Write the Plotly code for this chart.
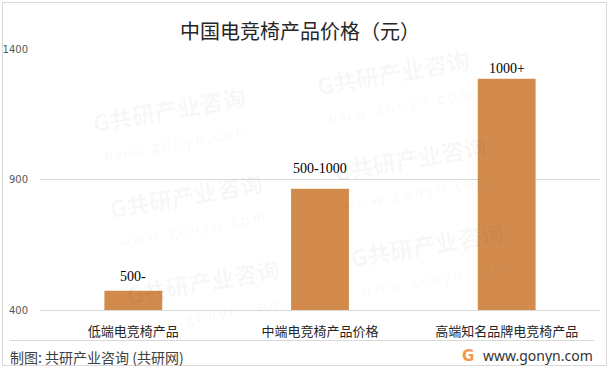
import plotly.graph_objects as go

categories = ["低端电竞椅产品", "中端电竞椅产品价格", "高端知名品牌电竞椅产品"]
prices = [474, 865, 1286]
price_labels = ["500-", "500-1000", "1000+"]
y_ticks = [400, 900, 1400]

title_text = "中国电竞椅产品价格（元）"
source_text = "制图: 共研产业咨询 (共研网)"
site_text = "www.gonyn.com"

W, H = 611, 369
L, R, T, B = 40, 11, 49, 59
PW, PH = W - L - R, H - T - B


def px(x):
    return (x - L) / PW


def py(y):
    return (H - B - y) / PH


bar_color = "#D38B4D"
cjk = "Noto Sans CJK SC"

fig = go.Figure()
fig.add_trace(go.Bar(
    x=categories, y=prices, marker=dict(color=bar_color, line=dict(width=0)),
    hoverinfo="x+y", showlegend=False,
))

annotations = []

# faint watermark lattice (only units fully inside the picture)
wm_html = ("<b>G共研产业咨询</b><br>"
           "<span style='font-size:14px'>w w w . g o n y n . c o m</span>")
for i in range(-1, 3):
    for j in range(-2, 4):
        gx = 83 + i * 224 + j * 17
        gy = 127 - i * 37 + j * 86
        cx, cy = gx + 88, gy - 5
        if cx - 100 < 4 or cx + 100 > W - 6 or cy - 35 < 4 or cy + 35 > H - 30:
            continue
        annotations.append(dict(
            x=px(cx), y=py(cy), xref="paper", yref="paper",
            text=wm_html, showarrow=False, textangle=-10,
            font=dict(family=cjk, size=23, color="rgba(0,0,0,0.045)"),
            xanchor="center", yanchor="middle",
        ))

# data labels
label_offsets = [14, 20, 10]
for c, v, t, off in zip(categories, prices, price_labels, label_offsets):
    annotations.append(dict(
        x=c, y=v, xref="x", yref="y", text=t, showarrow=False,
        yshift=off, yanchor="middle", xanchor="center",
        font=dict(family="Liberation Serif", size=14, color="#000000"),
    ))

# title
annotations.append(dict(
    x=px(300), y=py(30), xref="paper", yref="paper", text=title_text,
    showarrow=False, xanchor="center", yanchor="middle",
    font=dict(family=cjk, size=20, color="#262626"),
))
# footer
annotations.append(dict(
    x=px(8), y=py(357), xref="paper", yref="paper", text=source_text,
    showarrow=False, xanchor="left", yanchor="middle",
    font=dict(family=cjk, size=14, color="#404040"),
))
annotations.append(dict(
    x=px(595), y=py(355), xref="paper", yref="paper", text=site_text,
    showarrow=False, xanchor="right", yanchor="middle",
    font=dict(family="Noto Sans", size=14, color="#333333"),
))
annotations.append(dict(
    x=px(468), y=py(356), xref="paper", yref="paper", text="<b>G</b>",
    showarrow=False, xanchor="center", yanchor="middle",
    font=dict(family="DejaVu Sans", size=15, color="#F39A4C"),
))

shapes = [
    dict(type="rect", xref="paper", yref="paper",
         x0=px(2.5), x1=px(606.5), y0=py(365.5), y1=py(2.5),
         line=dict(color="#D9D9D9", width=1), fillcolor="rgba(0,0,0,0)", layer="below"),
    dict(type="line", xref="paper", yref="paper",
         x0=px(10), x1=px(594), y0=py(340.5), y1=py(340.5),
         line=dict(color="#D9D9D9", width=1)),
]

fig.update_layout(
    width=W, height=H,
    margin=dict(l=L, r=R, t=T, b=B, pad=0, autoexpand=False),
    paper_bgcolor="white", plot_bgcolor="white",
    bargap=0.69,
    annotations=annotations,
    shapes=shapes,
    xaxis=dict(
        type="category", showgrid=False, zeroline=False, automargin=False,
        showline=True, linecolor="#D9D9D9", linewidth=1,
        ticks="outside", ticklen=9, tickcolor="rgba(0,0,0,0)",
        tickfont=dict(family=cjk, size=13, color="#262626"),
    ),
    yaxis=dict(
        range=[y_ticks[0], y_ticks[-1]], tickvals=y_ticks, automargin=False,
        showgrid=True, gridcolor="#D9D9D9", gridwidth=1,
        zeroline=False, showline=False,
        ticks="outside", ticklen=9, tickcolor="rgba(0,0,0,0)",
        tickfont=dict(family="DejaVu Sans", size=10, color="#595959"),
    ),
    font=dict(family=cjk),
)

fig.write_html(
    "out.html",
    config={"displayModeBar": False},
    post_script="document.body.style.margin='0';document.body.style.overflow='hidden';",
)
